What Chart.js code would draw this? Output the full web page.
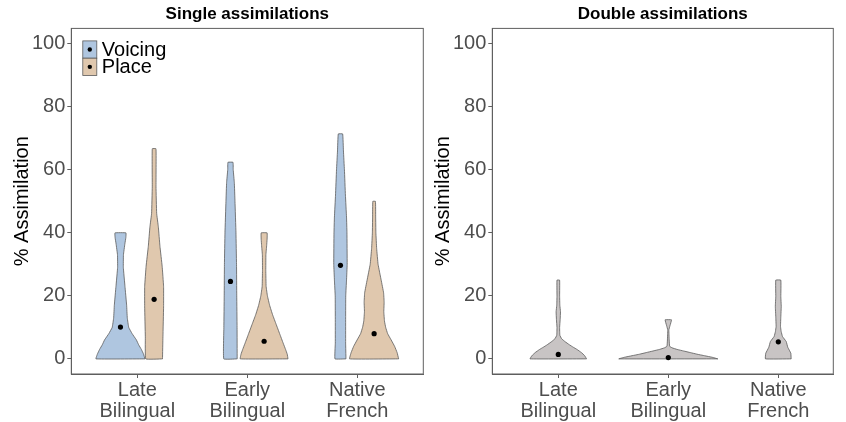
<!DOCTYPE html>
<html>
<head>
<meta charset="utf-8">
<script src="https://cdn.jsdelivr.net/npm/chart.js@4.4.1/dist/chart.umd.min.js"></script>
<style>
  html, body { margin: 0; padding: 0; background: #fff; }
  #wrap { position: relative; width: 846px; height: 422px; }
  #leftBox { position: absolute; left: 0; top: 0; }
  #rightBox { position: absolute; left: 430px; top: 0; }
</style>
</head>
<body>
<div id="wrap">
  <div id="leftBox"><canvas id="singleChart" width="430" height="422"></canvas></div>
  <div id="rightBox"><canvas id="doubleChart" width="416" height="422"></canvas></div>
</div>
<script>
// Categories and ticks
const categories = [['Late', 'Bilingual'], ['Early', 'Bilingual'], ['Native', 'French']];
const yTicks = [0, 20, 40, 60, 80, 100];

// Group means (dots)
const voicingMeans = [10.1, 24.6, 29.7];
const placeMeans = [18.9, 5.6, 8.0];
const doubleMeans = [1.4, 0.4, 5.4];

// Violin outlines: [value, half width in category units]
const lateVoicing = [[0, .223], [1.5, .21], [3, .19], [4.5, .165], [6, .145], [8, .106], [10, .075], [13, .062],
  [17, .056], [23, .041], [29, .026], [33, .027], [36.5, .04], [38.5, .049], [40, .05]];
const latePlace = [[0, .076], [7, .08], [16.5, .086], [23, .086], [29.4, .073], [35.7, .053], [42, .038],
  [46.2, .023], [54.6, .017], [66.7, .017]];
const earlyVoicing = [[0, .061], [10, .06], [20, .057], [30, .055], [40, .05], [50, .041], [56, .035],
  [60, .025], [62.4, .023]];
const earlyPlace = [[0, .217], [1.5, .21], [3, .195], [5, .173], [8, .141], [11, .109], [14, .077], [17, .05],
  [20, .03], [23, .018], [28, .015], [33, .016], [36, .023], [38, .027], [40, .027]];
const nativeVoicing = [[0, .05], [5, .047], [13, .047], [20, .048], [25, .055], [30, .061], [40, .059],
  [45, .055], [52, .045], [60, .036], [66, .027], [71.4, .02]];
const nativePlace = [[0, .223], [2, .209], [4, .186], [6, .155], [8, .123], [10, .105], [12, .094], [15, .088],
  [18, .091], [21, .086], [25, .064], [30, .036], [35, .023], [40, .016], [45, .014], [50, .012]];

const lateDouble = [[0, .257], [1, .24], [2, .21], [3, .17], [3.7, .136], [4.5, .1], [5.5, .06], [6.4, .03],
  [7.5, .014], [10, .012], [12.5, .017], [15, .02], [17, .014], [20, .012], [25, .012]];
const earlyDouble = [[0, .45], [0.5, .4], [1, .33], [1.5, .26], [2, .2], [2.5, .14], [3, .08], [3.5, .035],
  [4, .012], [6, .008], [8, .006], [9.2, .005], [10.5, .015], [12.4, .029]];
const nativeDouble = [[0, .117], [1.8, .114], [3.7, .086], [5.5, .072], [7.1, .038], [8.7, .026], [10.3, .02],
  [13.4, .023], [16.6, .027], [19.8, .023], [25, .023]];

const dodge = 0.153;
const blue = '#AFC6E0';
const tan = '#E0C8AE';
const grey = '#C8C4C4';
const edge = '#5a5a5a';
const frameColor = '#5f5f5f';
const tickColor = '#4d4d4d';
const fontFamily = "'Liberation Sans', Arial, sans-serif";

Chart.defaults.font.family = fontFamily;

// turn a profile into a closed outline around a centre
function outline(profile, centre) {
  const right = profile.map(p => ({ x: centre + p[1], y: p[0] }));
  const left = profile.slice().reverse().map(p => ({ x: centre - p[1], y: p[0] }));
  const pts = right.concat(left);
  pts.push(pts[0]);
  return pts;
}

function violinSet(label, profile, centre, color, legendKey) {
  return {
    label: label,
    data: outline(profile, centre),
    showLine: true,
    fill: 'shape',
    backgroundColor: color,
    borderColor: edge,
    borderWidth: 0.8,
    pointRadius: 0,
    tension: 0.08, // non-zero so the outline is not drawn with the x-sorted fast path
    legendKey: legendKey
  };
}

function meanSet(means, offset) {
  return {
    label: 'mean',
    data: means.map((m, i) => ({ x: i + 1 + offset, y: m })),
    showLine: false,
    pointRadius: 2.6,
    pointBackgroundColor: '#000',
    pointBorderColor: '#000',
    pointBorderWidth: 0
  };
}

// box round the panel, plus the legend inside the panel
const framePlugin = {
  id: 'frame',
  afterDraw(chart, args, opts) {
    const { ctx, chartArea: a } = chart;
    ctx.save();
    ctx.strokeStyle = frameColor;
    ctx.lineWidth = 1;
    ctx.strokeRect(a.left, a.top, a.right - a.left, a.bottom - a.top);

    if (opts.legend) {
      const keys = chart.data.datasets.filter(d => d.legendKey);
      const kx = a.left + 11.5, kw = 14, kh = 17.3;
      let ky = a.top + 12.5;
      ctx.font = '20px ' + fontFamily;
      ctx.textBaseline = 'middle';
      keys.forEach(d => {
        ctx.fillStyle = d.backgroundColor;
        ctx.fillRect(kx, ky, kw, kh);
        ctx.strokeStyle = edge;
        ctx.lineWidth = 0.8;
        ctx.strokeRect(kx, ky, kw, kh);
        ctx.fillStyle = '#000';
        ctx.beginPath();
        ctx.arc(kx + kw / 2, ky + kh / 2, 2.2, 0, Math.PI * 2);
        ctx.fill();
        ctx.fillText(d.label, kx + kw + 5, ky + kh / 2 + 1);
        ky += kh;
      });
    }
    ctx.restore();
  }
};

function makeOptions(title, xMax, yWidth, titlePad, rightPad, showLegend) {
  return {
    responsive: false,
    animation: false,
    events: [],
    layout: { padding: { left: 0, right: rightPad, top: 0, bottom: 0 } },
    scales: {
      x: {
        type: 'linear',
        min: 0.4,
        max: xMax,
        afterBuildTicks: s => { s.ticks = categories.map((c, i) => ({ value: i + 1 })); },
        afterFit: s => { s.height = 48; },
        ticks: {
          callback: v => categories[v - 1] || '',
          color: tickColor,
          font: { size: 20, lineHeight: 1.05 },
          padding: 2,
          autoSkip: false,
          maxRotation: 0
        },
        grid: { drawOnChartArea: false, tickLength: 4, color: frameColor },
        border: { color: frameColor }
      },
      y: {
        min: -4.8,
        max: 104.9,
        afterBuildTicks: s => { s.ticks = yTicks.map(v => ({ value: v })); },
        afterFit: s => { s.width = yWidth; },
        ticks: { color: tickColor, font: { size: 20 }, padding: 2 },
        grid: { drawOnChartArea: false, tickLength: 4, color: frameColor },
        border: { color: frameColor },
        title: {
          display: true,
          text: '% Assimilation',
          color: '#000',
          font: { size: 20 },
          padding: { top: titlePad, bottom: 0 }
        }
      }
    },
    plugins: {
      title: {
        display: true,
        text: title,
        color: '#000',
        font: { size: 17, weight: 'bold' },
        padding: { top: 4, bottom: 4 },
        fullSize: false
      },
      legend: { display: false },
      tooltip: { enabled: false },
      frame: { legend: showLegend }
    }
  };
}

new Chart(document.getElementById('singleChart'), {
  type: 'scatter',
  data: {
    datasets: [
      meanSet(voicingMeans, -dodge),
      meanSet(placeMeans, dodge),
      violinSet('Voicing', lateVoicing, 1 - dodge, blue, true),
      violinSet('Place', latePlace, 1 + dodge, tan, true),
      violinSet('Voicing', earlyVoicing, 2 - dodge, blue, false),
      violinSet('Place', earlyPlace, 2 + dodge, tan, false),
      violinSet('Voicing', nativeVoicing, 3 - dodge, blue, false),
      violinSet('Place', nativePlace, 3 + dodge, tan, false)
    ]
  },
  options: makeOptions('Single assimilations', 3.6, 71.3, 10, 6.7, true),
  plugins: [framePlugin]
});

new Chart(document.getElementById('doubleChart'), {
  type: 'scatter',
  data: {
    datasets: [
      meanSet(doubleMeans, 0),
      violinSet('Late', lateDouble, 1, grey, false),
      violinSet('Early', earlyDouble, 2, grey, false),
      violinSet('Native', nativeDouble, 3, grey, false)
    ]
  },
  options: makeOptions('Double assimilations', 3.5, 62.3, 1, 12.7, false),
  plugins: [framePlugin]
});
</script>
</body>
</html>
